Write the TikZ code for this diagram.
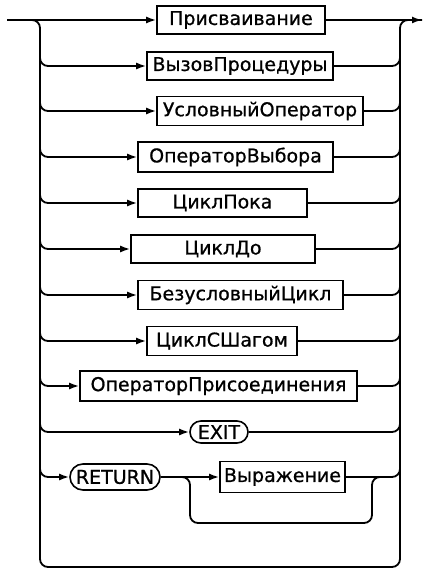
\documentclass[tikz,border=0pt]{standalone}
\usepackage{fontspec}
\newfontfamily\railfont[FakeBold=0.8]{DejaVu Sans}
\usetikzlibrary{arrows.meta,calc}
\tikzset{
  rail/.style={line width=1.8pt, rounded corners=8pt},
  tip/.style={-{Latex[length=10pt,width=7pt]}},
  nbox/.style={draw, line width=1.6pt, inner sep=0pt, font=\railfont\fontsize{19}{19}\selectfont},
  tbox/.style={nbox, rounded corners=#1},
}
\begin{document}
\begin{tikzpicture}[x=1pt,y=-1pt]
\useasboundingbox (0,0) rectangle (426,572);
\coordinate (L) at (40,0);
\coordinate (R) at (400,0);
\coordinate (in) at (7,20);
\coordinate (out) at (422,20);
\coordinate (bl) at (40,567);
\coordinate (br) at (400,567);

\node[nbox, minimum width=168pt, minimum height=28pt] (b1) at (241,20) {Присваивание};
\node[nbox, minimum width=186pt, minimum height=28pt] (b2) at (240,66) {ВызовПроцедуры};
\node[nbox, minimum width=206pt, minimum height=29pt] (b3) at (260,111) {УсловныйОператор};
\node[nbox, minimum width=195pt, minimum height=30pt] (b4) at (235.5,157) {ОператорВыбора};
\node[nbox, minimum width=169pt, minimum height=28pt] (b5) at (222.5,203) {ЦиклПока};
\node[nbox, minimum width=184pt, minimum height=28pt] (b6) at (223,249) {ЦиклДо};
\node[nbox, minimum width=205pt, minimum height=29pt] (b7) at (240.5,295) {БезусловныйЦикл};
\node[nbox, minimum width=150pt, minimum height=29pt] (b8) at (222,341) {ЦиклСШагом};
\node[nbox, minimum width=277pt, minimum height=30pt] (b9) at (218.5,386) {ОператорПрисоединения};
\node[tbox=11pt, minimum width=58pt, minimum height=22pt] (b10) at (219,432) {EXIT};
\node[tbox=13pt, minimum width=90pt, minimum height=26pt] (ret) at (115,477) {RETURN};
\node[nbox, minimum width=125pt, minimum height=31pt] (expr) at (282.5,477) {Выражение};

% outer rail
\draw[rail] (in) -- (L|-in) -- (bl) -- (br) -- (R|-out) -- (out);
\draw[rail, tip] (in) -- (b1.west);
\draw[rail, tip] (b1.east) -- (out);

% branches
\foreach \b in {b2,b3,b4,b5,b6,b7,b8,b9,b10}{
  \draw[rail, tip] ($(\b.west -| L)+(0,-12)$) |- (\b.west);
  \draw[rail] (\b.east) -| ($(\b.east -| R)+(0,-12)$);
}
\draw[rail, tip] ($(ret.west -| L)+(0,-12)$) |- (ret.west);
\draw[rail, tip] (ret.east) -- (expr.west);
\draw[rail] (expr.east) -| ($(expr.east -| R)+(0,-12)$);

% bypass of expression
\coordinate (s1) at (178,477);
\coordinate (s2) at (190,523);
\coordinate (s3) at (372,523);
\coordinate (s4) at (384,477);
\draw[rail] (s1) -| (s2) -- (s3) |- (s4);
\end{tikzpicture}
\end{document}
